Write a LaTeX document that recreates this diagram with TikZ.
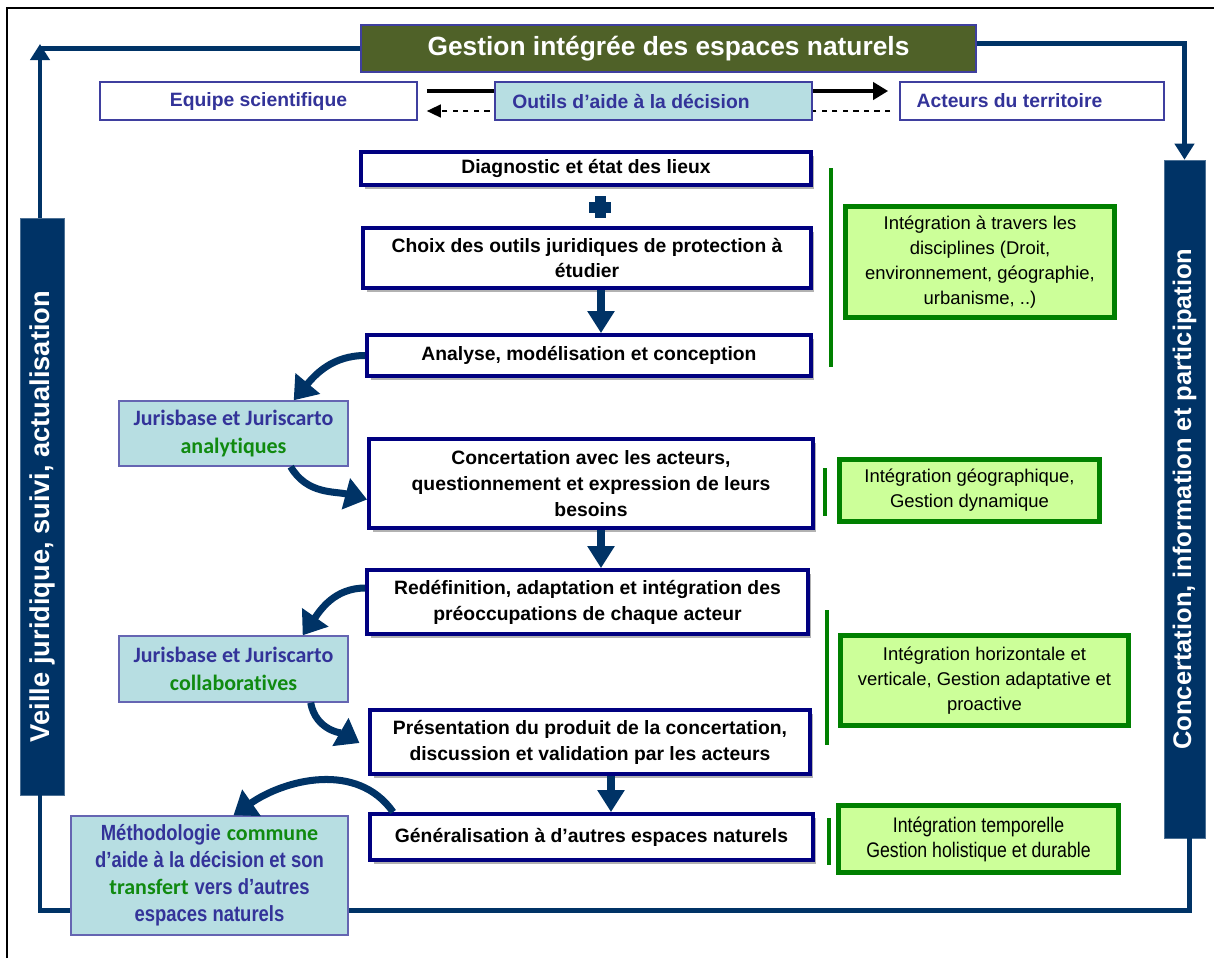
\documentclass[tikz,border=0pt]{standalone}
\usepackage{fontspec}
\setmainfont{Liberation Sans}
\newfontfamily\calibri[Ligatures=NoCommon]{Carlito}
\newfontfamily\etroite[FakeStretch=0.84]{Liberation Sans}
\usetikzlibrary{arrows.meta,shadows}

\definecolor{marine}{HTML}{003366}
\definecolor{bordbleu}{HTML}{000080}
\definecolor{titrevert}{HTML}{4F6128}
\definecolor{bordviolet}{HTML}{3F3F9F}
\definecolor{texteb}{HTML}{333399}
\definecolor{cyanclair}{HTML}{B7DEE2}
\definecolor{vertt}{HTML}{108A10}
\definecolor{vertclair}{HTML}{CCFF99}
\definecolor{vertfonce}{HTML}{008000}

\tikzset{
  etape/.style={draw=bordbleu, line width=2.2pt, fill=white, inner sep=0pt, align=center,
    font={\fontsize{11}{14.7}\selectfont\bfseries},
    drop shadow={shadow xshift=2pt, shadow yshift=-2pt, fill=black!30, opacity=1}},
  outil/.style={draw=bordviolet!80, line width=0.8pt, fill=cyanclair, inner sep=0pt, align=center,
    font={\calibri\fontsize{12.5}{15.9}\selectfont\bfseries}},
  acteur/.style={draw=bordviolet, line width=1pt, fill=white, inner sep=0pt, minimum height=0.76cm,
    text=texteb, font={\fontsize{11}{13}\selectfont\bfseries}},
  integration/.style={draw=vertfonce, line width=2.8pt, fill=vertclair, inner sep=0pt, align=center,
    font={\fontsize{10.5}{14.2}\selectfont}},
  barre/.style={fill=marine, draw=marine!70, inner sep=0pt, rotate=90, text=white,
    font={\fontsize{15.5}{18}\selectfont\bfseries}},
  boucle/.style={draw=marine, line width=2.8pt},
  fleche/.style={-{Triangle[length=0.32cm,width=0.38cm]}},
  courbe/.style={draw=marine, line width=4pt, -{Triangle[length=0.44cm,width=0.62cm]}},
  descente/.style={draw=marine, line width=5pt, -{Triangle[length=0.44cm,width=0.52cm]}},
  accolade/.style={draw=vertfonce, line width=2.8pt}
}

\begin{document}
\begin{tikzpicture}[x=0.02cm, y=-0.02cm]
\useasboundingbox (0,0) rectangle (1214,958);
\draw[line width=1pt] (7,958) -- (7,8) -- (1214,8);

% en-tete
\node[draw=bordviolet, line width=1pt, fill=titrevert, inner sep=0pt, minimum width=12.3cm, minimum height=0.94cm, text=white, font={\fontsize{15}{18}\selectfont\bfseries}] (titre) at (668.5,48.5) {Gestion intégrée des espaces naturels};
\node[acteur, minimum width=6.34cm] (equipe) at (258.5,101) {Equipe scientifique};
\node[acteur, minimum width=5.28cm] (acteurs) at (1032,101) {Acteurs du territoire\hspace*{0.9cm}};
\draw[line width=2.2pt, shorten <=0.18cm, shorten >=0.22cm, -{Triangle[length=0.3cm,width=0.34cm]}] ([yshift=0.2cm]equipe.east) -- ([yshift=0.2cm]acteurs.west);
\draw[line width=0.8pt, dashed, shorten <=0.18cm, shorten >=0.18cm, -{Triangle[length=0.28cm,width=0.26cm]}] ([yshift=-0.2cm]acteurs.west) -- ([yshift=-0.2cm]equipe.east);
\node[acteur, fill=cyanclair, minimum width=6.34cm] (outils) at (653.5,101) {Outils d’aide à la décision\hspace*{0.9cm}};

% barres laterales
\node[barre, minimum width=11.54cm, minimum height=0.88cm] (veille) at (42,506.5) {Veille juridique, suivi, actualisation\hspace*{0.4cm}};
\node[barre, minimum width=13.56cm, minimum height=0.82cm, font={\fontsize{14.5}{17}\selectfont\bfseries}] (concertation) at (1184.5,499) {Concertation, information et participation};

% boucle exterieure
\coordinate (coin) at (40,47);
\draw[boucle] (titre.west) -- (titre.west -| coin);
\draw[boucle, fleche] (veille.east -| coin) -- ([yshift=0.06cm]coin);
\draw[boucle, fleche] ([yshift=0.1cm]titre.east) -| (concertation.east);
\draw[boucle] (veille.west -| coin) -- ++(0,115) -| ([xshift=0.1cm]concertation.west);

% etapes
\node[etape, minimum width=9cm, minimum height=0.66cm] (diag) at (586,168.5) {Diagnostic et état des lieux};
\node[etape, minimum width=8.96cm, minimum height=1.2cm] (choix) at (587,258) {Choix des outils juridiques de protection à\\étudier};
\node[etape, minimum width=8.88cm, minimum height=0.82cm] (analyse) at (589,355.5) {Analyse, modélisation et conception};
\node[etape, minimum width=8.88cm, minimum height=1.78cm] (concert) at (591,483.5) {Concertation avec les acteurs,\\questionnement et expression de leurs\\besoins};
\node[etape, minimum width=8.82cm, minimum height=1.28cm] (redef) at (587.5,602) {Redéfinition, adaptation et intégration des\\préoccupations de chaque acteur};
\node[etape, minimum width=8.8cm, minimum height=1.28cm] (present) at (590,742) {Présentation du produit de la concertation,\\discussion et validation par les acteurs};
\node[etape, minimum width=8.86cm, minimum height=0.92cm] (general) at (591.5,837) {Généralisation à d’autres espaces naturels};

\draw[marine, line width=0.22cm] (589,207) -- (611,207) (600,196) -- (600,218);
\coordinate (axe) at (601,0);
\coordinate (axeb) at (611,0);
\draw[descente] (choix.south -| axe) -- (analyse.north -| axe);
\draw[descente] (concert.south -| axe) -- (redef.north -| axe);
\draw[descente] (present.south -| axeb) -- (general.north -| axeb);

% outils juridiques
\node[outil, minimum width=4.58cm, minimum height=1.3cm] (juris1) at (233.5,433.5) {\color{texteb}Jurisbase et Juriscarto\\\color{vertt}analytiques};
\node[outil, minimum width=4.58cm, minimum height=1.32cm] (juris2) at (233.5,669) {\color{texteb}Jurisbase et Juriscarto\\\color{vertt}collaboratives};
\node[outil, minimum width=5.54cm, minimum height=2.38cm, text=texteb, font={\fontsize{12.5}{15.3}\selectfont\bfseries}] (methodo) at (209.5,875.5) {{\etroite Méthodologie} {\calibri\color{vertt}commune}\\{\etroite d’aide à la décision et son}\\{\calibri\color{vertt}transfert} {\etroite vers d’autres}\\{\etroite espaces naturels}};

\draw[courbe] (analyse.west) to[out=180,in=50] ([xshift=-1.1cm]juris1.north east);
\draw[courbe] ([xshift=-1.16cm]juris1.south east) to[out=-60,in=165] ([yshift=-0.32cm]concert.west);
\draw[courbe] ([yshift=0.28cm]redef.west) to[out=180,in=55] ([xshift=-0.92cm]juris2.north east);
\draw[courbe, shorten >=0.2cm] ([xshift=-0.76cm]juris2.south east) to[out=-80,in=150] ([yshift=-0.12cm]present.west);
\draw[courbe] ([xshift=0.5cm]general.north west) to[out=125,in=35] ([xshift=0.48cm]methodo.north);

% integrations
\node[integration, minimum width=5.38cm, minimum height=2.22cm] (g1) at (980,262) {Intégration à travers les\\disciplines (Droit,\\environnement, géographie,\\urbanisme, ..)};
\node[integration, minimum width=5.2cm, minimum height=1.24cm] (g2) at (969.5,490.5) {Intégration géographique,\\Gestion dynamique};
\node[integration, minimum width=5.76cm, minimum height=1.8cm] (g3) at (984.5,680.5) {Intégration horizontale et\\verticale, Gestion adaptative et\\proactive};
\node[integration, minimum width=5.6cm, minimum height=1.34cm, font={\etroite\fontsize{12}{14.2}\selectfont}] (g4) at (978.5,839) {Intégration temporelle\\Gestion holistique et durable};
\draw[accolade] (831,168) -- (831,367);
\draw[accolade] (825,468) -- (825,516);
\draw[accolade] (827,610) -- (827,745);
\draw[accolade] (829,818) -- (829,865);
\end{tikzpicture}
\end{document}
